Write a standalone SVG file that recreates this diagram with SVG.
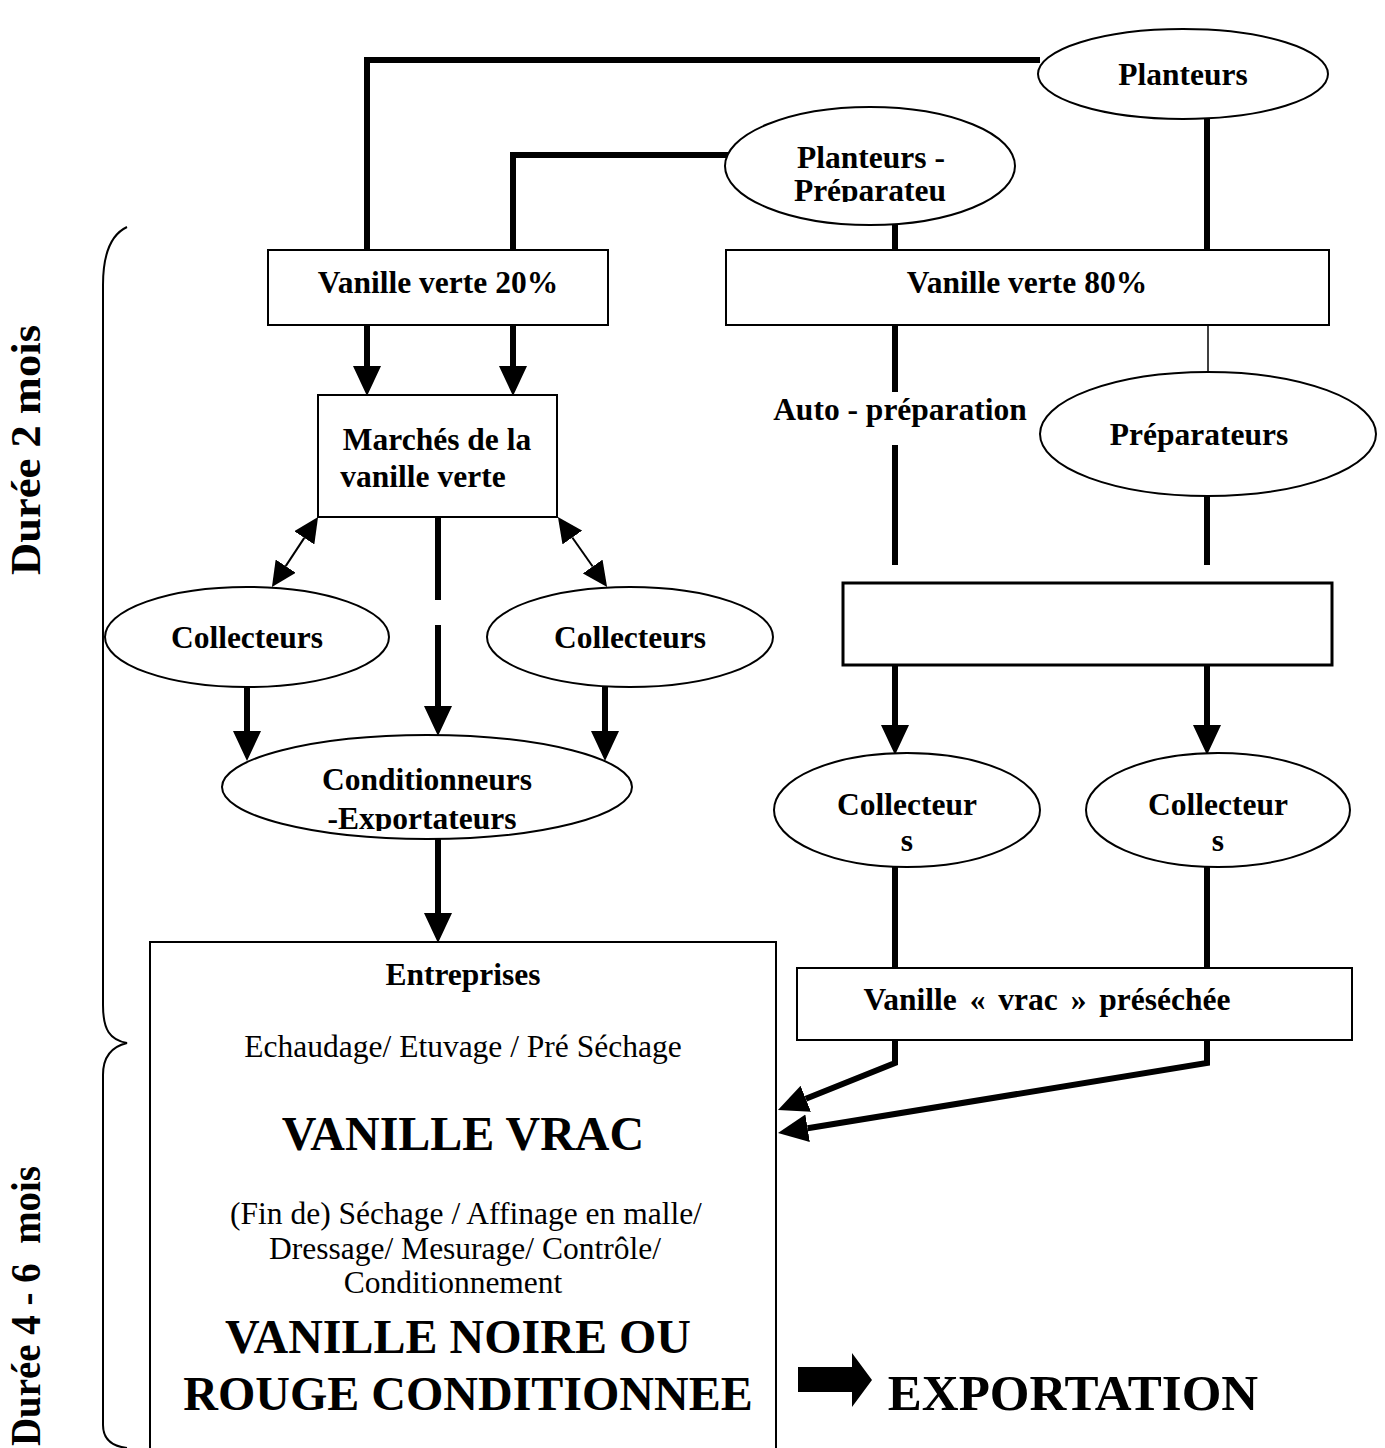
<svg xmlns="http://www.w3.org/2000/svg" width="1385" height="1448" viewBox="0 0 1385 1448">
<style>
.t{font-family:"Liberation Serif","Times New Roman",serif;font-weight:bold;font-size:31.5px;text-anchor:middle;fill:#000}
.r{font-family:"Liberation Serif","Times New Roman",serif;font-size:31.5px;text-anchor:middle;fill:#000}
.big{font-family:"Liberation Serif","Times New Roman",serif;font-weight:bold;font-size:48px;text-anchor:middle;fill:#000}
.side{font-family:"Liberation Serif","Times New Roman",serif;font-weight:bold;font-size:42px;fill:#000}
.node{fill:#fff;stroke:#000;stroke-width:2}
.thick{fill:none;stroke:#000;stroke-width:6}
.thin{fill:none;stroke:#000;stroke-width:2}
</style>
<defs>
<marker id="ah" markerUnits="userSpaceOnUse" markerWidth="30" markerHeight="30" viewBox="0 0 30 30" refX="0" refY="15" orient="auto"><path d="M0,1 L30,15 L0,29 z" fill="#000"/></marker>
<marker id="ah2" markerUnits="userSpaceOnUse" markerWidth="25" markerHeight="24" viewBox="0 0 25 24" refX="0" refY="12" orient="auto-start-reverse"><path d="M0,0 L25,12 L0,24 z" fill="#000"/></marker>
<clipPath id="cPP"><rect x="700" y="100" width="340" height="102"/></clipPath>
<clipPath id="cCE"><rect x="200" y="730" width="460" height="101"/></clipPath>
<clipPath id="cC1"><rect x="770" y="750" width="600" height="102"/></clipPath>
</defs>

<g id="connectors">
<path class="thick" d="M1040,60 H367 V250"/>
<path class="thick" d="M728,155 H513 V250"/>
<path class="thick" d="M895,225 V250"/>
<path class="thick" d="M1207,118 V250"/>
<path class="thick" d="M367,325 V366" marker-end="url(#ah)"/>
<path class="thick" d="M513,325 V366" marker-end="url(#ah)"/>
<path class="thick" d="M895,325 V392"/>
<path class="thick" d="M895,445 V565"/>
<path fill="none" stroke="#000" stroke-width="1.5" d="M1208,325 V372"/>
<path class="thick" d="M1207,496 V565"/>
<path class="thick" d="M895,662 V725" marker-end="url(#ah)"/>
<path class="thick" d="M1207,662 V725" marker-end="url(#ah)"/>
<path class="thick" d="M895,866 V968"/>
<path class="thick" d="M1207,866 V968"/>
<path class="thick" d="M895,1040 V1063 L805.8,1098.8" marker-end="url(#ah)"/>
<path class="thick" d="M1207,1040 V1063 L807.6,1128.2" marker-end="url(#ah)"/>
<path class="thick" d="M438,517 V600"/>
<path class="thick" d="M438,625 V706" marker-end="url(#ah)"/>
<path class="thick" d="M247,687 V731" marker-end="url(#ah)"/>
<path class="thick" d="M605,687 V731" marker-end="url(#ah)"/>
<path class="thick" d="M438,837 V913" marker-end="url(#ah)"/>
<path class="thin" d="M304.3,537.9 L285.7,566.1" marker-start="url(#ah2)" marker-end="url(#ah2)"/>
<path class="thin" d="M572.3,537.5 L592.7,566.5" marker-start="url(#ah2)" marker-end="url(#ah2)"/>
</g>

<g id="brace">
<path fill="none" stroke="#000" stroke-width="2" d="M127,227 C110,235 103,255 103,285 L103,1005 C103,1030 110,1040 127,1043 C110,1047 103,1058 103,1075 L103,1425 C103,1438 110,1446 127,1448"/>
</g>

<g id="label-duree2">
<text class="side" transform="translate(40,450) rotate(-90)" text-anchor="middle" textLength="250" lengthAdjust="spacingAndGlyphs">Durée 2 mois</text>
</g>
<g id="label-duree46">
<text class="side" transform="translate(40,1446) rotate(-90)" text-anchor="start" textLength="280" lengthAdjust="spacingAndGlyphs" xml:space="preserve">Durée 4 - 6  mois</text>
</g>

<g id="planteurs">
<ellipse class="node" cx="1183" cy="74" rx="145" ry="45"/>
<text class="t" x="1183" y="85">Planteurs</text>
</g>

<g id="planteurs-preparateurs">
<ellipse class="node" cx="870" cy="166" rx="145" ry="59"/>
<g clip-path="url(#cPP)">
<text class="t" x="871" y="168">Planteurs -</text>
<text class="t" x="870" y="201">Préparateu</text>
</g>
</g>

<g id="vanille-verte-20">
<rect class="node" x="268" y="250" width="340" height="75"/>
<text class="t" x="438" y="293">Vanille verte 20%</text>
</g>

<g id="vanille-verte-80">
<rect class="node" x="726" y="250" width="603" height="75"/>
<text class="t" x="1027" y="293">Vanille verte 80%</text>
</g>

<g id="marches">
<rect class="node" x="318" y="395" width="239" height="122"/>
<text class="t" x="437" y="450">Marchés de la</text>
<text class="t" x="423" y="487">vanille verte</text>
</g>

<g id="auto-preparation">
<text class="t" x="900" y="420">Auto - préparation</text>
</g>

<g id="preparateurs">
<ellipse class="node" cx="1208" cy="434" rx="168" ry="62"/>
<text class="t" x="1199" y="445">Préparateurs</text>
</g>

<g id="collecteurs-left">
<ellipse class="node" cx="247" cy="637" rx="142" ry="50"/>
<text class="t" x="247" y="648">Collecteurs</text>
</g>

<g id="collecteurs-right">
<ellipse class="node" cx="630" cy="637" rx="143" ry="50"/>
<text class="t" x="630" y="648">Collecteurs</text>
</g>

<g id="empty-box">
<rect x="843" y="583" width="489" height="82" fill="#fff" stroke="#000" stroke-width="3"/>
</g>

<g id="conditionneurs">
<ellipse class="node" cx="427" cy="787" rx="205" ry="52"/>
<g clip-path="url(#cCE)">
<text class="t" x="427" y="790">Conditionneurs</text>
<text class="t" x="422" y="829">-Exportateurs</text>
</g>
</g>

<g id="collecteur-a">
<ellipse class="node" cx="907" cy="810" rx="133" ry="57"/>
<g clip-path="url(#cC1)">
<text class="t" x="907" y="815">Collecteur</text>
<text class="t" x="907" y="851">s</text>
</g>
</g>

<g id="collecteur-b">
<ellipse class="node" cx="1218" cy="810" rx="132" ry="57"/>
<g clip-path="url(#cC1)">
<text class="t" x="1218" y="815">Collecteur</text>
<text class="t" x="1218" y="851">s</text>
</g>
</g>

<g id="vrac-preseche">
<rect class="node" x="797" y="968" width="555" height="72"/>
<text class="t" x="1047" y="1010" style="word-spacing:5px">Vanille « vrac » préséchée</text>
</g>

<g id="entreprises">
<rect class="node" x="150" y="942" width="626" height="520"/>
<text class="t" x="463" y="985">Entreprises</text>
<text class="r" x="463" y="1057">Echaudage/ Etuvage / Pré Séchage</text>
<text class="big" x="463" y="1150">VANILLE VRAC</text>
<text class="r" x="466" y="1224">(Fin de) Séchage / Affinage en malle/</text>
<text class="r" x="465" y="1259">Dressage/ Mesurage/ Contrôle/</text>
<text class="r" x="453" y="1293">Conditionnement</text>
<text class="big" x="458" y="1353">VANILLE NOIRE OU</text>
<text class="big" x="468" y="1410">ROUGE CONDITIONNEE</text>
</g>

<g id="exportation">
<polygon points="798,1367 852,1367 852,1353 872,1380 852,1407 852,1392 798,1392" fill="#000"/>
<text class="big" x="1073" y="1410" style="font-size:51px">EXPORTATION</text>
</g>
</svg>
